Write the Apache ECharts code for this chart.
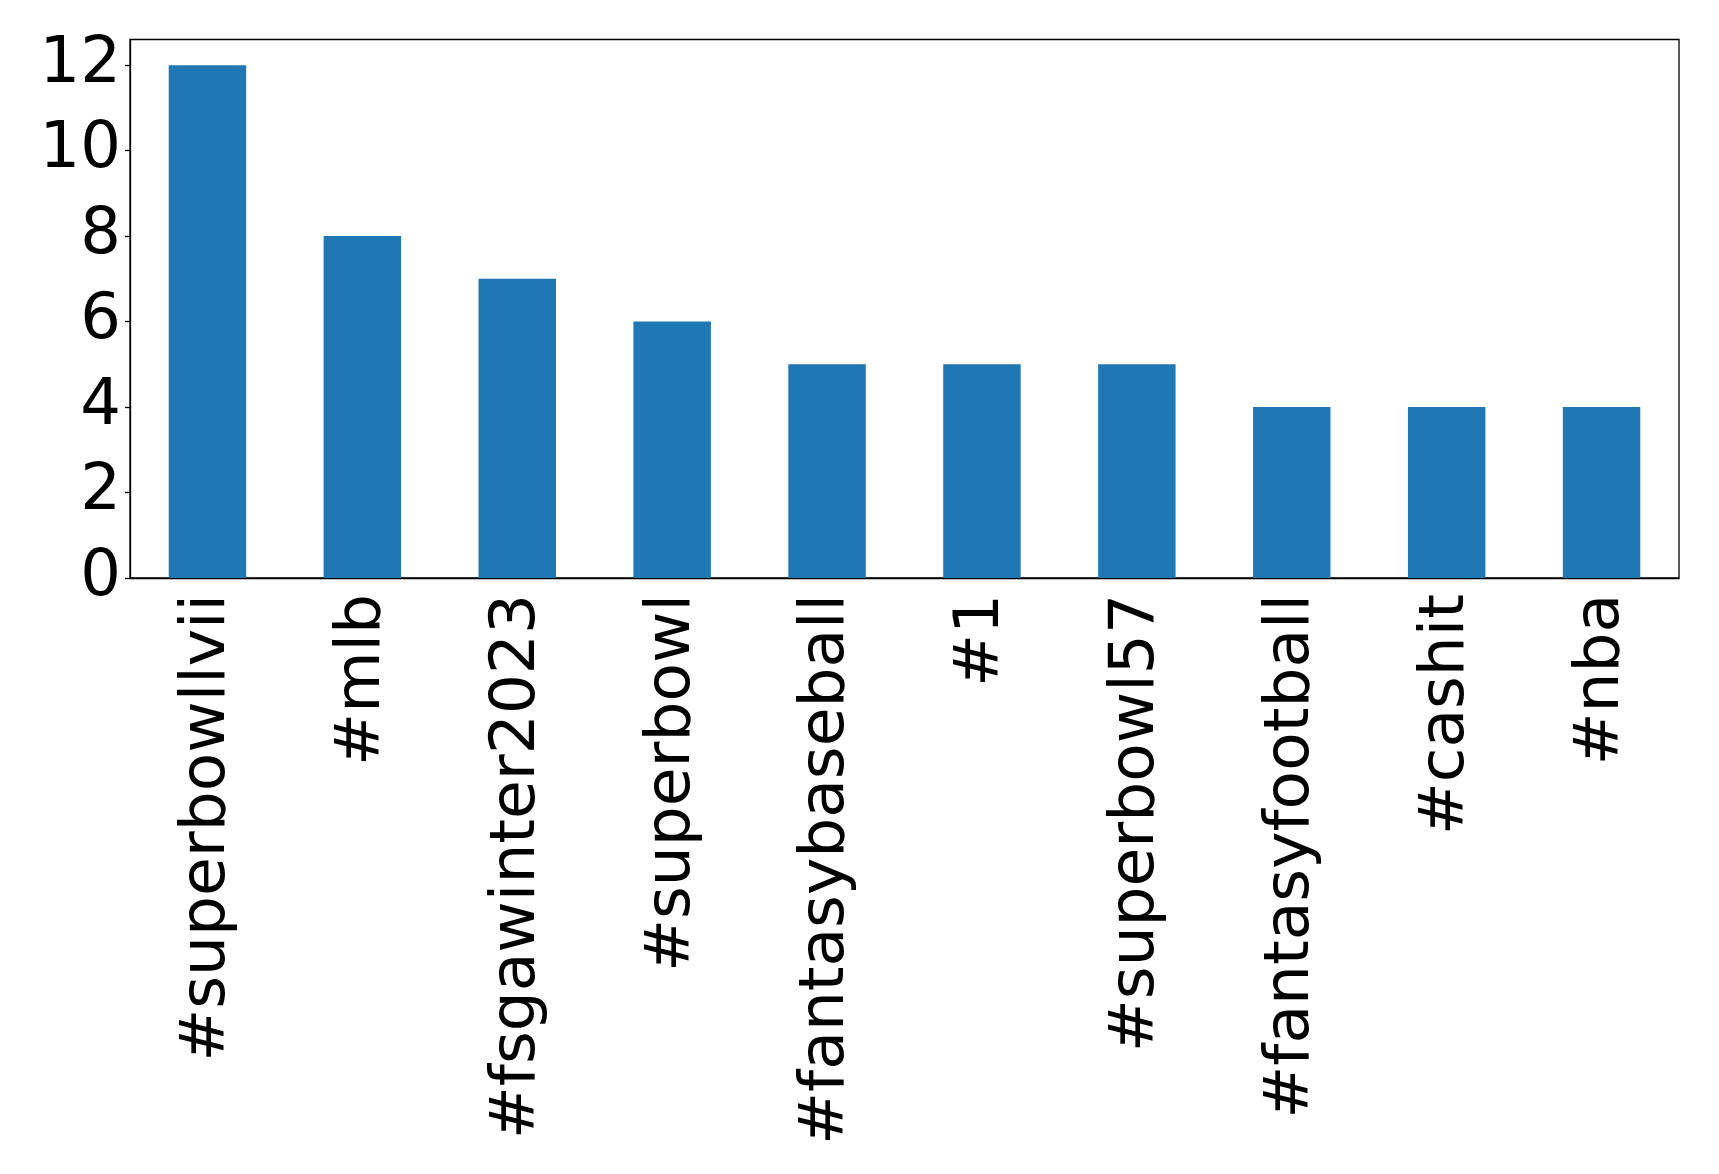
<!DOCTYPE html>
<html>
<head>
<meta charset="utf-8">
<script src="https://cdn.jsdelivr.net/npm/echarts@6/dist/echarts.min.js"></script>
<style>html,body{margin:0;padding:0;background:#fff;}#c{width:1719px;height:1174px;}</style>
</head>
<body>
<div id="c"></div>
<script>
const categories = ['#superbowllvii', '#mlb', '#fsgawinter2023', '#superbowl', '#fantasybaseball', '#1', '#superbowl57', '#fantasyfootball', '#cashit', '#nba'];
const counts = [12, 8, 7, 6, 5, 5, 5, 4, 4, 4];
const yTicks = [0, 2, 4, 6, 8, 10, 12];

const chart = echarts.init(document.getElementById('c'), null, {renderer: 'canvas'});
const font = 'DejaVu Sans';
chart.setOption({
  animation: false,
  backgroundColor: '#fff',
  grid: {left: 130, right: 40, top: 39.5, bottom: 596, show: true, borderColor: '#000', borderWidth: 1.3, backgroundColor: 'transparent'},
  xAxis: {
    type: 'category',
    data: categories,
    boundaryGap: true,
    axisLine: {lineStyle: {color: '#000', width: 1.3}},
    axisTick: {alignWithLabel: true, length: 5, lineStyle: {color: '#000', width: 1.3}},
    axisLabel: {interval: 0, rotate: 90, margin: 16, color: '#000', fontSize: 63, fontFamily: font, padding: [10, 0, 0, 0]}
  },
  yAxis: {
    type: 'value',
    min: 0,
    max: 12.6,
    splitLine: {show: false},
    axisLine: {show: true, lineStyle: {color: '#000', width: 1.3}},
    axisTick: {show: true, length: 5, lineStyle: {color: '#000', width: 1.3}, customValues: yTicks},
    axisLabel: {margin: 9, color: '#000', fontSize: 64, fontFamily: font, customValues: yTicks}
  },
  series: [{
    type: 'bar',
    data: counts,
    barWidth: '50%',
    itemStyle: {color: '#1f77b4'}
  }]
});
</script>
</body>
</html>
